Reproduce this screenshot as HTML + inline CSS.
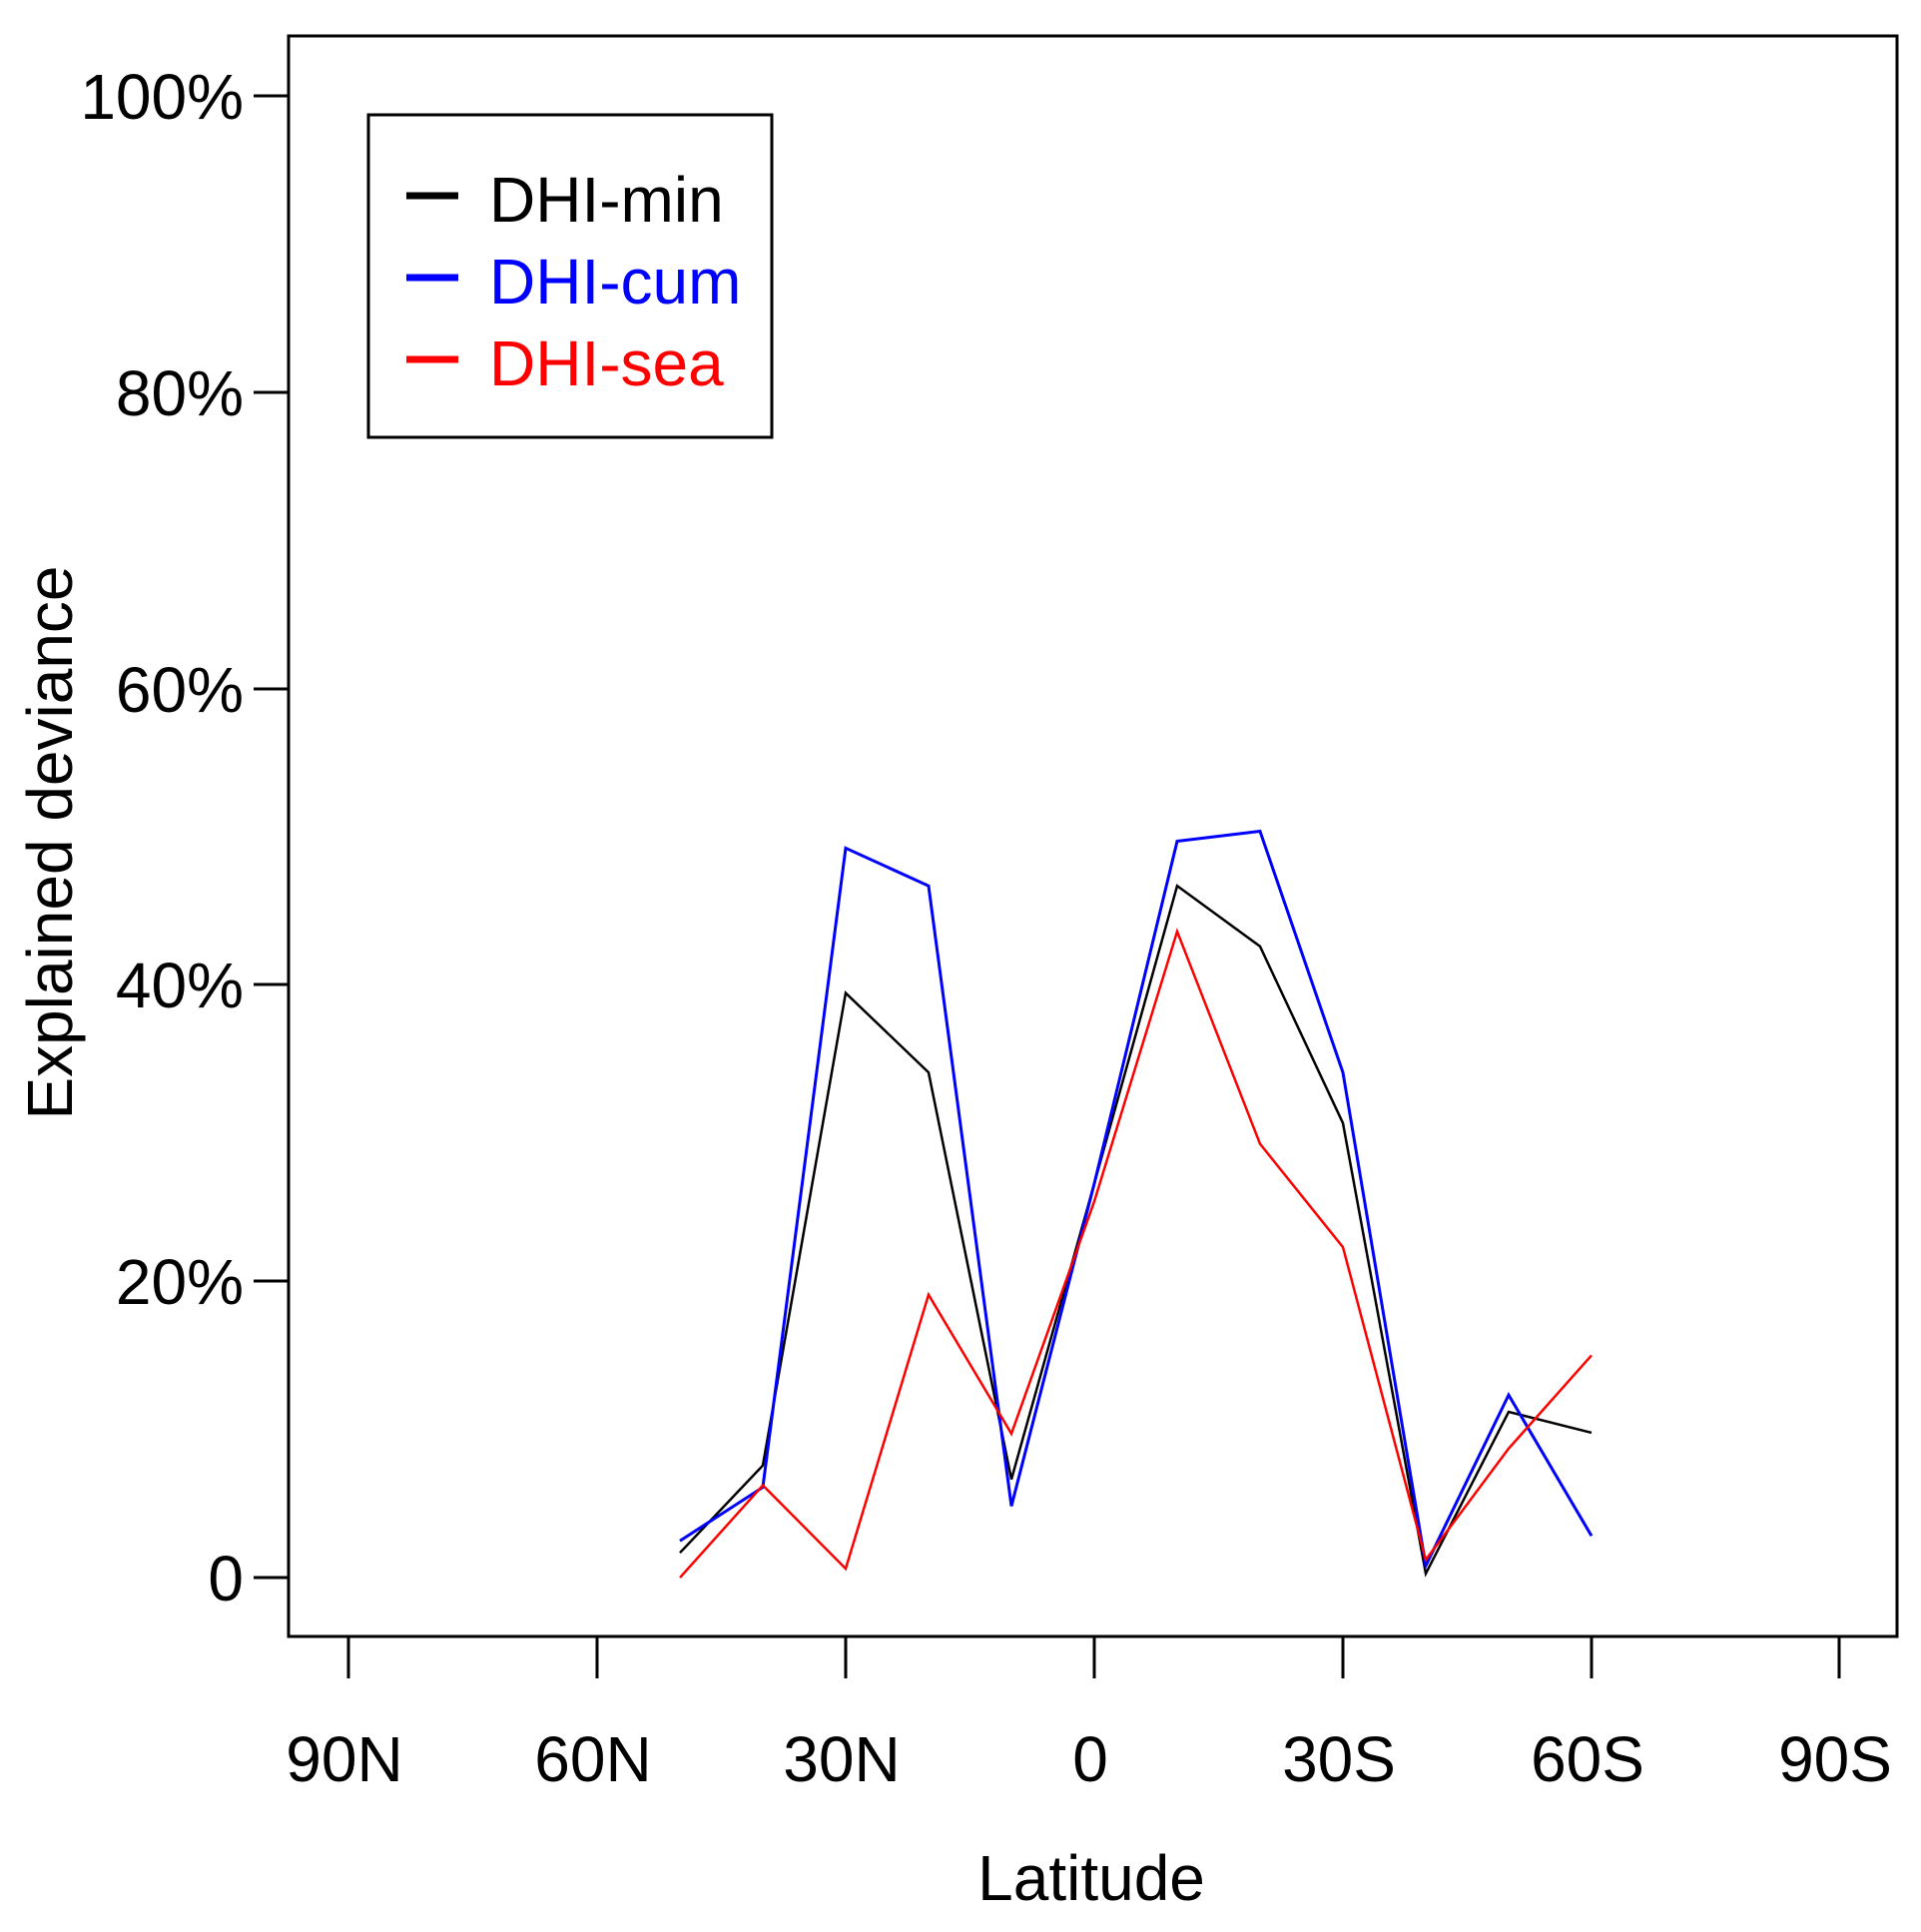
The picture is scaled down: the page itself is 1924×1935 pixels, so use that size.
<!DOCTYPE html>
<html><head><meta charset="utf-8"><style>
html,body{margin:0;padding:0;background:#fff;}
svg{display:block;}
text{font-family:"Liberation Sans",Arial,sans-serif;}
</style></head><body>
<svg width="1924" height="1935" viewBox="0 0 1924 1935" xmlns="http://www.w3.org/2000/svg">
<rect x="289" y="36" width="1611" height="1603" fill="none" stroke="#000" stroke-width="3"/>
<g stroke="#000" stroke-width="3">
<line x1="254" y1="1580" x2="289" y2="1580"/>
<line x1="254" y1="1283" x2="289" y2="1283"/>
<line x1="254" y1="986" x2="289" y2="986"/>
<line x1="254" y1="690" x2="289" y2="690"/>
<line x1="254" y1="393" x2="289" y2="393"/>
<line x1="254" y1="96" x2="289" y2="96"/>
<line x1="349" y1="1639" x2="349" y2="1681"/>
<line x1="598" y1="1639" x2="598" y2="1681"/>
<line x1="847" y1="1639" x2="847" y2="1681"/>
<line x1="1096" y1="1639" x2="1096" y2="1681"/>
<line x1="1345" y1="1639" x2="1345" y2="1681"/>
<line x1="1594" y1="1639" x2="1594" y2="1681"/>
<line x1="1842" y1="1639" x2="1842" y2="1681"/>
</g>
<g font-size="64" text-anchor="end" fill="#000">
<text x="244" y="1603">0</text>
<text x="244" y="1306">20%</text>
<text x="244" y="1009">40%</text>
<text x="244" y="713">60%</text>
<text x="244" y="416">80%</text>
<text x="244" y="119">100%</text>
</g>
<g font-size="64" text-anchor="middle" fill="#000">
<text x="345" y="1784">90N</text>
<text x="594" y="1784">60N</text>
<text x="843" y="1784">30N</text>
<text x="1092" y="1784">0</text>
<text x="1341" y="1784">30S</text>
<text x="1590" y="1784">60S</text>
<text x="1838" y="1784">90S</text>
<text x="1093" y="1903">Latitude</text>
<text transform="translate(72,844) rotate(-90)">Explained deviance</text>
</g>
<g fill="none" stroke-width="2.5" transform="translate(0,96) scale(1,0.994) translate(0,-96)">
<polyline stroke="#000" points="681,1564 764,1476 847,1000 930,1080 1013,1490 1096,1192 1179,892 1262,953 1345,1131 1428,1585 1511,1422 1594,1443"/>
<polyline stroke="#00f" stroke-width="3" points="681,1552 764,1498 847,854 930,892 1013,1517 1096,1192 1179,847 1262,837 1345,1080 1428,1577 1511,1405 1594,1547"/>
<polyline stroke="#f00" points="681,1589 764,1496 847,1580 930,1304 1013,1444 1096,1210 1179,938 1262,1152 1345,1256 1428,1571 1511,1459 1594,1365"/>
</g>
<rect x="369" y="115" width="404" height="323" fill="#fff" stroke="#000" stroke-width="3"/>
<g stroke-width="7">
<line x1="407" y1="196" x2="459" y2="196" stroke="#000"/>
<line x1="407" y1="278" x2="459" y2="278" stroke="#00f"/>
<line x1="407" y1="360" x2="459" y2="360" stroke="#f00"/>
</g>
<g font-size="64">
<text x="490" y="222" fill="#000">DHI-min</text>
<text x="490" y="304" fill="#00f">DHI-cum</text>
<text x="490" y="386" fill="#f00">DHI-sea</text>
</g>
</svg>
</body></html>
